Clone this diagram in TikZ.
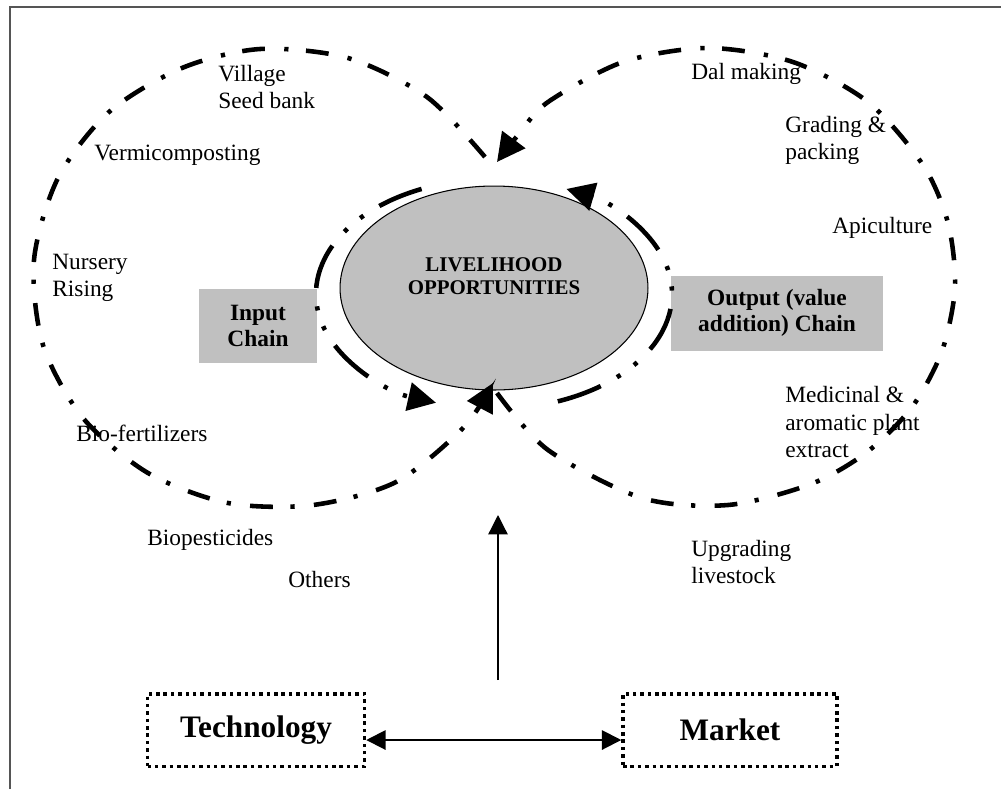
\documentclass[tikz,border=0pt]{standalone}
\usepackage{fontspec}
\setmainfont{Liberation Serif}
\usetikzlibrary{shapes.geometric,arrows.meta}

\definecolor{chaingray}{RGB}{192,192,192}
\definecolor{framegray}{RGB}{85,85,85}

\begin{document}
\begin{tikzpicture}[x=0.02cm, y=-0.02cm,
    item/.style={anchor=west, inner sep=0pt, align=left, font=\fontsize{13.3}{15.4}\selectfont},
    chain/.style={fill=chaingray, align=center, inner sep=0pt, font=\bfseries\fontsize{13.3}{15.2}\selectfont},
    hub/.style={ellipse, draw, line width=0.6pt, fill=chaingray, inner sep=0pt, minimum width=6.16cm, minimum height=4.08cm},
    factor/.style={draw, line width=2pt, dash pattern=on 2pt off 2.2pt, inner sep=0pt, minimum height=1.45cm, font=\bfseries\fontsize{17.8}{20}\selectfont},
    bigloop/.style={line width=2.6pt, dash pattern=on 13pt off 10pt on 2.4pt off 11pt, -{Triangle[length=16pt,width=16pt]}},
    innerloop/.style={line width=2.6pt, dash pattern=on 26pt off 10.5pt on 2.4pt off 9.5pt on 2.4pt off 10.5pt, -{Triangle[length=16pt,width=16pt]}}]
    \useasboundingbox (0,0) rectangle (1001,789);

    % Frame
    \draw[framegray, line width=0.8pt] (10,789) -- (10,7) -- (1001,7);

    % Hub
    \node[hub] (hub) at (494,288) {};
    \node[font=\bfseries\fontsize{11.9}{13.1}\selectfont, align=center] (hubtitle) at (494,276) {LIVELIHOOD\\OPPORTUNITIES};

    % Chains
    \node[chain, minimum width=2.38cm, minimum height=1.48cm] (input) at (258,326) {Input\\Chain};
    \node[chain, minimum width=4.26cm, minimum height=1.5cm] (output) at (777,313) {Output (value\\addition) Chain};

    % Activities
    \node[item] (village) at (218,87) {Village\\Seed bank};
    \node[item] (vermi) at (94,155) {Vermicomposting};
    \node[item] (nursery) at (52,278) {Nursery\\Rising};
    \node[item] (biofert) at (76,433) {Bio-fertilizers};
    \node[item] (biopest) at (147,540) {Biopesticides};
    \node[item] (others) at (288,579) {Others};
    \node[item] (dal) at (691,74) {Dal making};
    \node[item] (grading) at (785,140) {Grading \&\\packing};
    \node[item] (apicult) at (832,228) {Apiculture};
    \node[item] (medicinal) at (785,422) {Medicinal \&\\aromatic plant\\extract};
    \node[item] (livestock) at (691,562) {Upgrading\\livestock};

    % Input and output loops
    \draw[bigloop] plot[smooth] coordinates {(485,157) (427,97) (348,58) (260,49) (182,68) (109,112) (58,178) (34,260) (43,345) (83,418) (148,473) (228,503) (313,505) (396,482) (463,428) (493,383)};
    \draw[bigloop] plot[smooth] coordinates {(497,393) (548,450) (642,498) (728,505) (811,484) (867,452) (912,407) (942,351) (955,287) (948,223) (923,165) (868,102) (793,62) (708,48) (623,62) (548,102) (518,135) (497,162)};
    \draw[innerloop] (494,294) ++(246:178 and 115) arc[start angle=246, end angle=109, x radius=178, y radius=115];
    \draw[innerloop] (494,294) ++(69:178 and 115) arc[start angle=69, end angle=-66, x radius=178, y radius=115];

    % Technology and market
    \node[factor, minimum width=4.34cm] (tech) at (256,730) {Technology};
    \node[factor, minimum width=4.28cm] (market) at (730,730) {Market};
    \draw[line width=1.1pt, {Triangle[length=11pt,width=11pt]}-{Triangle[length=11pt,width=11pt]}] ([yshift=-0.2cm]tech.east) -- ([yshift=-0.2cm]market.west);

    \coordinate (push) at (498,680);
    \coordinate (hubin) at (498,515);
    \draw[line width=0.75pt, -{Triangle[length=11pt,width=11pt]}] (push) -- (hubin);
\end{tikzpicture}
\end{document}
